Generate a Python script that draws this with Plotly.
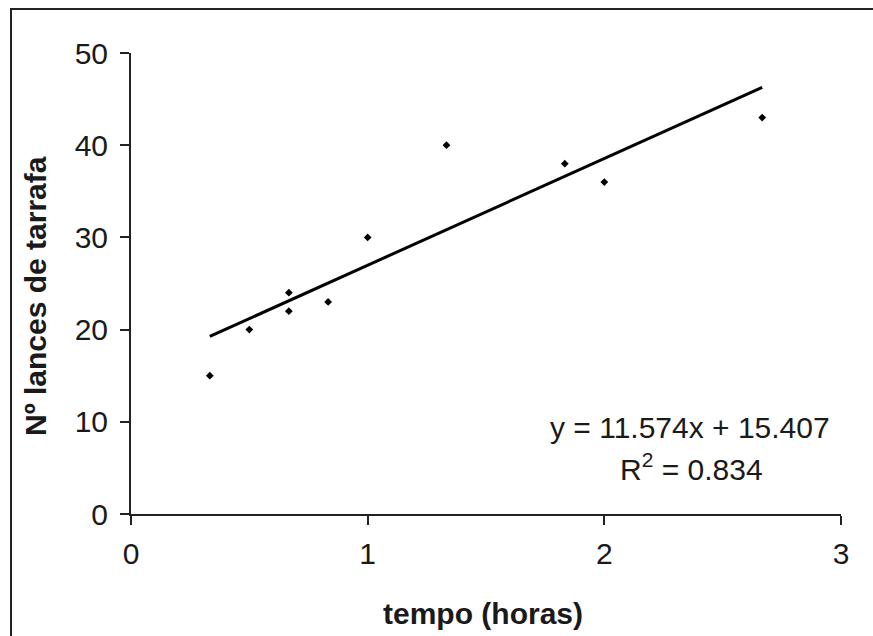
import plotly.graph_objects as go

# Data
tempo_horas = [0.333, 0.5, 0.667, 0.667, 0.833, 1.0, 1.333, 1.833, 2.0, 2.667]
lances = [15, 20, 24, 22, 23, 30, 40, 38, 36, 43]

# Trendline coefficients shown on the chart
slope = 11.574
intercept = 15.407
r_squared = 0.834

x_ticks = [0, 1, 2, 3]
y_ticks = [0, 10, 20, 30, 40, 50]

FONT = "Liberation Sans, Arial, sans-serif"
TXT = "#1a1a1a"
FS = 30

x_fit = [min(tempo_horas), max(tempo_horas)]
y_fit = [slope * v + intercept for v in x_fit]

fig = go.Figure()
fig.add_trace(go.Scatter(
    x=x_fit, y=y_fit, mode="lines",
    line=dict(color="black", width=3),
    hoverinfo="skip", showlegend=False,
))
fig.add_trace(go.Scatter(
    x=tempo_horas, y=lances, mode="markers",
    marker=dict(symbol="diamond", size=6, color="black"),
    showlegend=False,
))

W, H = 873, 636
L, R, T, B = 131, 32, 53, 122
pw, ph = W - L - R, H - T - B

def px_to_paper_x(px):
    return (px - L) / pw

def px_to_paper_y(py):
    return (H - B - py) / ph

fig.update_layout(
    width=W, height=H, autosize=False,
    margin=dict(l=L, r=R, t=T, b=B, pad=0),
    paper_bgcolor="white", plot_bgcolor="white",
    font=dict(family=FONT, size=FS, color=TXT),
    xaxis=dict(
        range=[0, 3], tickvals=x_ticks, showgrid=False, zeroline=False,
        showline=True, linecolor="#222", linewidth=2,
        ticks="outside", ticklen=9, tickwidth=2, tickcolor="#222",
        tickfont=dict(family=FONT, size=FS, color=TXT),
        ticklabelstandoff=3,
    ),
    yaxis=dict(
        range=[0, 50], tickvals=y_ticks, showgrid=False, zeroline=False,
        showline=True, linecolor="#222", linewidth=2,
        ticks="outside", ticklen=9, tickwidth=2, tickcolor="#222",
        tickfont=dict(family=FONT, size=FS, color=TXT),
        ticklabelstandoff=6,
    ),
    shapes=[
        dict(type="line", xref="paper", yref="paper",
             x0=px_to_paper_x(11), x1=px_to_paper_x(11),
             y0=px_to_paper_y(9), y1=px_to_paper_y(640),
             line=dict(color="#222", width=2)),
        dict(type="line", xref="paper", yref="paper",
             x0=px_to_paper_x(10), x1=px_to_paper_x(880),
             y0=px_to_paper_y(9), y1=px_to_paper_y(9),
             line=dict(color="#222", width=2)),
    ],
    annotations=[
        dict(text="<b>tempo (horas)</b>", xref="paper", yref="paper",
             x=px_to_paper_x(483), y=px_to_paper_y(613),
             xanchor="center", yanchor="middle", showarrow=False,
             font=dict(family=FONT, size=FS, color=TXT)),
        dict(text="<b>Nº lances de tarrafa</b>", xref="paper", yref="paper",
             x=px_to_paper_x(35), y=px_to_paper_y(296), textangle=-90,
             xanchor="center", yanchor="middle", showarrow=False,
             font=dict(family=FONT, size=FS, color=TXT)),
        dict(text=f"y = {slope}x + {intercept}", xref="paper", yref="paper",
             x=px_to_paper_x(690), y=px_to_paper_y(427),
             xanchor="center", yanchor="middle", showarrow=False,
             font=dict(family=FONT, size=FS, color=TXT)),
        dict(text=f"R<sup>2</sup> = {r_squared}", xref="paper", yref="paper",
             x=px_to_paper_x(691), y=px_to_paper_y(467),
             xanchor="center", yanchor="middle", showarrow=False,
             font=dict(family=FONT, size=FS, color=TXT)),
    ],
)

fig.write_html(
    "out.html",
    config={"displayModeBar": False},
    post_script="document.body.style.margin='0';document.body.style.overflow='hidden';",
)
